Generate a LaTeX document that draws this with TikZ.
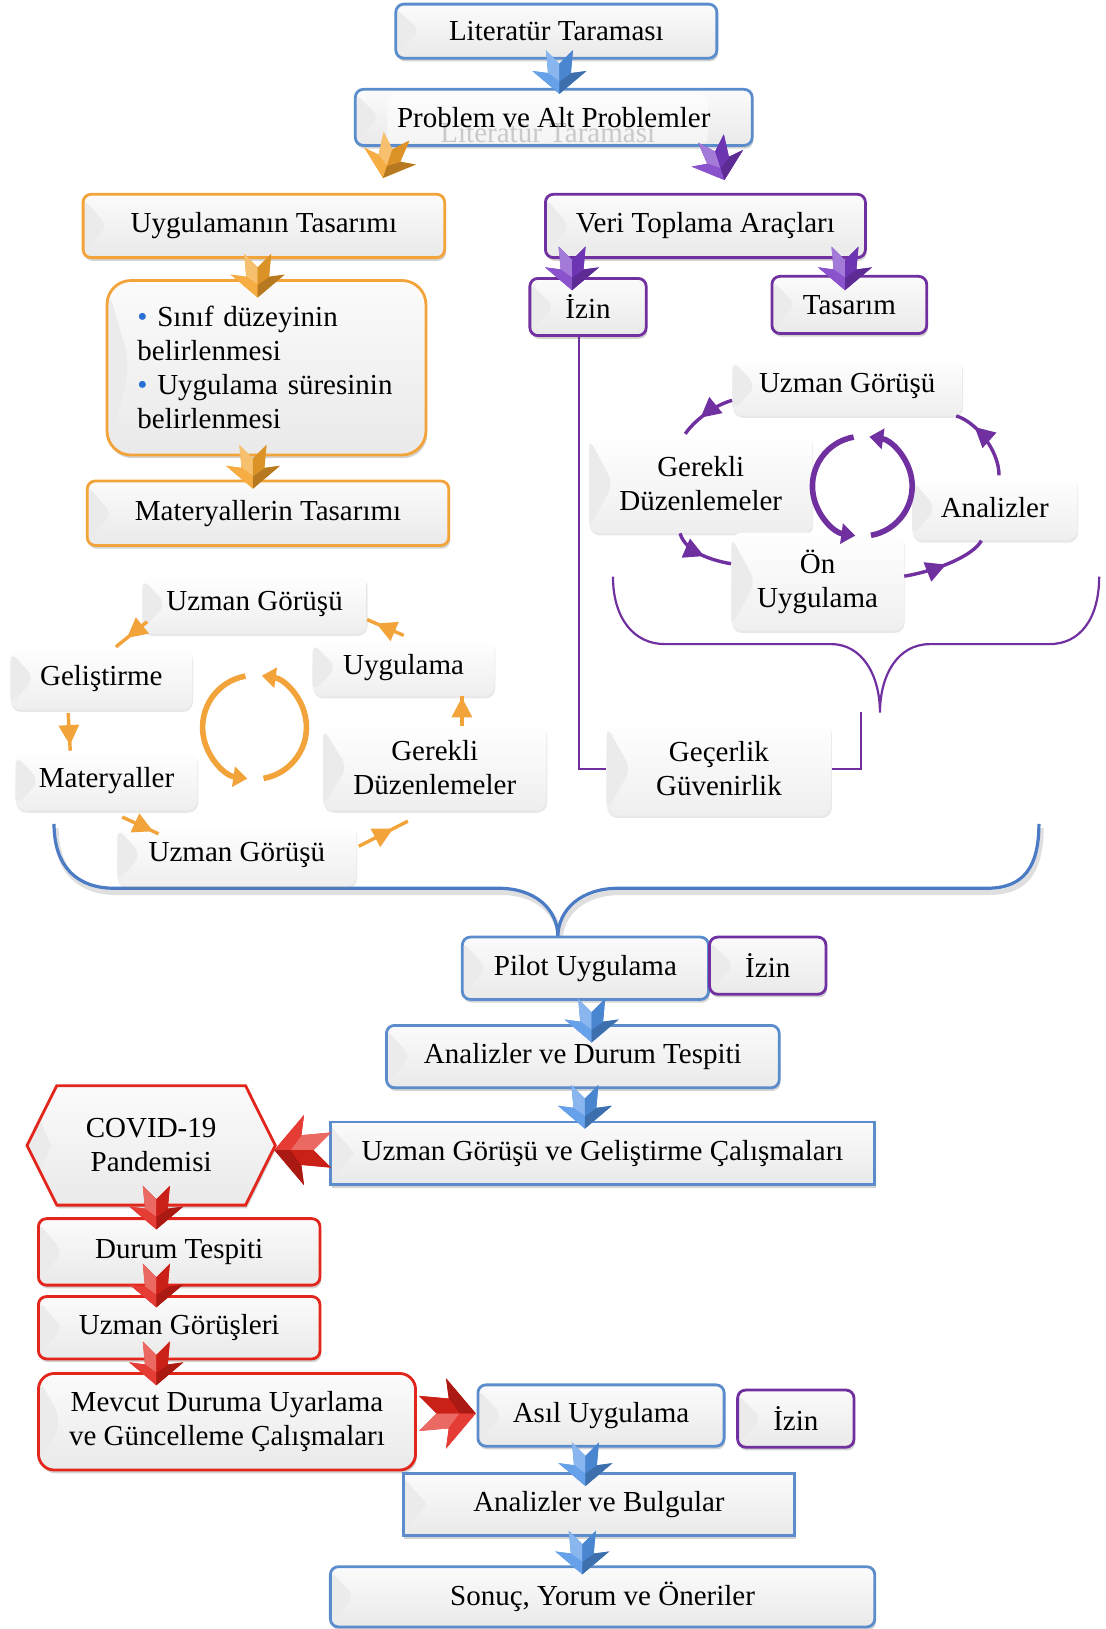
\documentclass[tikz,border=0pt]{standalone}
\usepackage{fontspec}
\setmainfont{Liberation Serif}
\usetikzlibrary{shadows,shapes.symbols,calc,decorations.markings,arrows.meta}

\definecolor{boxblue}{HTML}{5B8CCB}
\definecolor{boxorange}{HTML}{F2A33A}
\definecolor{boxpurple}{HTML}{7030A0}
\definecolor{boxred}{HTML}{E3261C}
\definecolor{dotblue}{HTML}{2A6FD4}
\definecolor{arrblue}{HTML}{5294E6}
\definecolor{arrorange}{HTML}{F3A22A}
\definecolor{arrpurple}{HTML}{7A3BC6}
\definecolor{arrred}{HTML}{E2231A}
\definecolor{braceblue}{HTML}{4A7BC4}

% box given by its corners: name, style, x1, y1, x2, y2, text
\newcommand\flowbox[7]{%
  \node[#2, minimum width={(#5-#3)*0.51923pt}, minimum height={(#6-#4)*0.51923pt}]
    (#1) at ({(#3+#5)/2},{(#4+#6)/2}) {#7};}

\tikzset{
  every node/.style={font=\fontsize{14.5}{17}\selectfont, inner sep=0pt, align=center},
  bevel/.style={path picture={
    \fill[gray!16] ([yshift=-2pt]path picture bounding box.north west)
      -- ([xshift=12pt]path picture bounding box.west)
      -- ([yshift=2pt]path picture bounding box.south west) -- cycle;}},
  ghosted/.style={path picture={
    \fill[gray!16] ([yshift=-2pt]path picture bounding box.north west)
      -- ([xshift=12pt]path picture bounding box.west)
      -- ([yshift=2pt]path picture bounding box.south west) -- cycle;
    \fill[white, opacity=0.5, rounded corners=3pt] ([xshift=16pt,yshift=-2.5pt]path picture bounding box.north west)
      rectangle ([xshift=-22pt,yshift=1pt]path picture bounding box.south east);
    \node[text=gray!42] at ([xshift=-3pt,yshift=-8pt]path picture bounding box.center) {Literatür Taraması};}},
  panel/.style={rounded corners=4pt, top color=gray!3, bottom color=gray!17, bevel,
    drop shadow={shadow xshift=0.6pt, shadow yshift=-1.6pt, opacity=0.35}},
  edged/.style={panel, draw=#1, line width=1.4pt},
  soft/.style={rounded corners=5pt, top color=white, bottom color=gray!13, bevel,
    drop shadow={shadow xshift=0.4pt, shadow yshift=-1.2pt, opacity=0.18}},
  cyc/.style 2 args={draw=#1, line width=1.7pt, postaction={decorate},
    decoration={markings, mark=at position #2 with {\arrow[color=#1]{Triangle[length=10pt,width=10pt]}}}},
  ring/.style={draw=#1, line width=2.8pt, -{Triangle[length=7pt,width=10pt]}},
  % faceted block arrow pointing down, origin at the middle of its top
  pics/starrow/.style={code={
    \fill[#1] (0,42) -- (26,20) -- (11,22) -- (13,0) -- (0,13) -- (-13,0) -- (-11,22) -- (-26,20) -- cycle;
    \fill[#1!68!white] (-13,0) -- (0,13) -- (0,30) -- (-11,22) -- cycle;
    \fill[#1!88!white] (-26,20) -- (-11,22) -- (0,30) -- (0,42) -- cycle;
    \fill[#1!75!black] (26,20) -- (11,22) -- (0,30) -- (0,42) -- cycle;
    \fill[#1!90!black] (13,0) -- (0,13) -- (0,30) -- (11,22) -- cycle;
  }}
}

\begin{document}
\begin{tikzpicture}[x=0.51923pt, y=-0.51923pt]
\useasboundingbox (0,0) rectangle (1064,1568);

% large braces
\draw[gray, opacity=0.25, line width=2.6pt] (54,797) .. controls (54,839) and (77,859) .. (112,859) -- (482,859)
  .. controls (517,859) and (539,879) .. (539,906) .. controls (539,879) and (562,859) .. (597,859)
  -- (952,859) .. controls (987,859) and (1002,839) .. (1002,797);
\draw[braceblue, line width=1.6pt] (52,793) .. controls (52,835) and (75,855) .. (110,855) -- (480,855)
  .. controls (515,855) and (537,875) .. (537,902) .. controls (537,875) and (560,855) .. (595,855)
  -- (950,855) .. controls (985,855) and (1000,835) .. (1000,793);
\draw[boxpurple, line width=1.1pt] (590,555) .. controls (590,595) and (610,620) .. (640,620) -- (800,620)
  .. controls (830,620) and (847,650) .. (847,686) .. controls (847,650) and (864,620) .. (895,620)
  -- (1010,620) .. controls (1040,620) and (1058,595) .. (1058,555);

% top chain
\flowbox{lit}{edged=boxblue}{381}{4}{690}{56}{Literatür Taraması}
\flowbox{prob}{edged=boxblue, ghosted}{342}{86}{724}{140}{Problem ve Alt Problemler}

% design branch
\flowbox{ut}{edged=boxorange}{80}{187}{428}{248}{Uygulamanın Tasarımı}
\flowbox{sel}{edged=boxorange, rounded corners=12pt, align=left, text width=129pt}{103}{270}{410}{438}%
  {{\color{dotblue}•} Sınıf düzeyinin\\belirlenmesi\\{\color{dotblue}•} Uygulama süresinin\\belirlenmesi}
\flowbox{mt}{edged=boxorange}{84}{463}{432}{525}{Materyallerin Tasarımı}

% data collection branch
\flowbox{vt}{edged=boxpurple}{525}{187}{833}{248}{Veri Toplama Araçları}
\flowbox{izina}{edged=boxpurple}{510}{268}{622}{323}{İzin}
\flowbox{tas}{edged=boxpurple}{743}{266}{892}{321}{Tasarım}

% tool development cycle
\flowbox{ugr}{soft}{705}{343}{926}{400}{Uzman Görüşü}
\flowbox{gdr}{soft}{567}{418}{782}{513}{Gerekli\\Düzenlemeler}
\flowbox{anr}{soft}{878}{458}{1037}{520}{Analizler}
\flowbox{onr}{soft}{704}{513}{870}{607}{Ön\\Uygulama}
\flowbox{gg}{soft}{584}{695}{800}{785}{Geçerlik\\Güvenirlik}

% material development cycle
\flowbox{ugl}{soft}{137}{553}{353}{610}{Uzman Görüşü}
\flowbox{gel}{soft}{10}{623}{185}{683}{Geliştirme}
\flowbox{uyg}{soft}{301}{615}{476}{670}{Uygulama}
\flowbox{mat}{soft}{15}{723}{190}{780}{Materyaller}
\flowbox{gdl}{soft}{311}{697}{526}{780}{Gerekli\\Düzenlemeler}
\flowbox{ugb}{soft}{113}{793}{343}{853}{Uzman Görüşü}

% pilot and main study
\flowbox{pilot}{edged=boxblue}{445}{902}{682}{962}{Pilot Uygulama}
\flowbox{izinb}{edged=boxpurple}{683}{902}{795}{957}{İzin}
\flowbox{ads}{edged=boxblue}{372}{987}{750}{1047}{Analizler ve Durum Tespiti}
\flowbox{ugc}{edged=boxblue, sharp corners}{318}{1080}{842}{1140}{Uzman Görüşü ve Geliştirme Çalışmaları}
\flowbox{covid}{edged=boxred, sharp corners, shape=signal, signal to=west and east, signal pointer angle=127}{26}{1045}{265}{1160}{COVID-19\\Pandemisi}
\flowbox{dt}{edged=boxred}{37}{1173}{308}{1237}{Durum Tespiti}
\flowbox{ugs}{edged=boxred}{37}{1248}{308}{1308}{Uzman Görüşleri}
\flowbox{mev}{edged=boxred, rounded corners=8pt}{37}{1322}{400}{1415}{Mevcut Duruma Uyarlama\\ve Güncelleme Çalışmaları}
\flowbox{asil}{edged=boxblue}{460}{1333}{697}{1392}{Asıl Uygulama}
\flowbox{izinc}{edged=boxpurple}{710}{1338}{822}{1393}{İzin}
\flowbox{anb}{edged=boxblue, sharp corners}{388}{1418}{765}{1478}{Analizler ve Bulgular}
\flowbox{son}{edged=boxblue}{318}{1508}{842}{1566}{Sonuç, Yorum ve Öneriler}

% permission line to validity box
\coordinate (vtop) at (829,685);
\draw[boxpurple, line width=1.1pt] ($(izina.south)+(-9,0)$) |- (gg.west);
\draw[boxpurple, line width=1.1pt] (gg.east) -| (vtop);

% central rings
\coordinate (pc) at (830,468);
\draw[ring=boxpurple] ($(pc)+(-100:48)$) arc[start angle=-100, end angle=-262, radius=48];
\draw[ring=boxpurple] ($(pc)+(80:48)$) arc[start angle=80, end angle=-82, radius=48];
\coordinate (oc) at (245,700);
\draw[ring=boxorange] ($(oc)+(-100:50)$) arc[start angle=-100, end angle=-262, radius=50];
\draw[ring=boxorange] ($(oc)+(80:50)$) arc[start angle=80, end angle=-82, radius=50];

% tool cycle links
\coordinate (r1a) at ([shift={(0,-15)}]ugr.south west);
\coordinate (r1b) at ([shift={(93,0)}]gdr.north west);
\coordinate (r2a) at ([shift={(88,0)}]gdr.south west);
\coordinate (r2b) at ([shift={(0,30)}]onr.north west);
\coordinate (r3a) at ([shift={(0,42)}]onr.north east);
\coordinate (r3b) at ([shift={(67,0)}]anr.south west);
\coordinate (r4a) at ([shift={(84,0)}]anr.north west);
\coordinate (r4b) at ([shift={(-6,0)}]ugr.south east);
\draw[cyc={boxpurple}{0.62}] (r1a) .. controls ($(r1a)+(-18,5)$) and ($(r1b)+(8,-12)$) .. (r1b);
\draw[cyc={boxpurple}{0.55}] (r2a) .. controls ($(r2a)+(5,18)$) and ($(r2b)+(-18,-3)$) .. (r2b);
\draw[cyc={boxpurple}{0.5}] (r3a) .. controls ($(r3a)+(30,-5)$) and ($(r3b)+(-8,15)$) .. (r3b);
\draw[cyc={boxpurple}{0.72}] (r4a) .. controls ($(r4a)+(0,-25)$) and ($(r4b)+(18,5)$) .. (r4b);

% material cycle links
\draw[cyc={boxorange}{0.65}] ([shift={(5,-12)}]ugl.south west) -- ([shift={(102,0)}]gel.north west);
\draw[cyc={boxorange}{0.85}] ([shift={(56,3)}]gel.south west) -- ([shift={(53,0)}]mat.north west);
\draw[cyc={boxorange}{0.85}] ([shift={(103,6)}]mat.south west) -- ([shift={(40,10)}]ugb.north west);
\draw[cyc={boxorange}{0.7}] ([shift={(2,22)}]ugb.north east) -- ([shift={(82,10)}]gdl.south west);
\draw[cyc={boxorange}{0.97}] ([shift={(134,2)}]gdl.north west) -- ([shift={(144,0)}]uyg.south west);
\draw[cyc={boxorange}{0.75}] ([shift={(88,-3)}]uyg.north west) -- ([shift={(0,-14)}]ugl.south east);

% block arrows between stages
\pic at ($(lit.south)+(3,-9)$) {starrow=arrblue};
\pic[rotate=-18] at ($(prob.south west)+(41,-10)$) {starrow=arrorange};
\pic[rotate=18] at ($(prob.south east)+(-41,-8)$) {starrow=arrpurple};
\pic at ($(ut.south)+(-6,-5)$) {starrow=arrorange};
\pic at ($(sel.south)+(-13,-11)$) {starrow=arrorange};
\pic at ($(vt.south west)+(27,-12)$) {starrow=arrpurple};
\pic at ($(vt.south east)+(-21,-12)$) {starrow=arrpurple};
\pic at ($(pilot.south)+(6,-2)$) {starrow=arrblue};
\pic at ($(ads.south)+(2,-4)$) {starrow=arrblue};
\pic[rotate=-90, scale=1.3] at ($(ugc.west)+(2,-3)$) {starrow=arrred};
\pic at ($(covid.south)+(5,-20)$) {starrow=arrred};
\pic at ($(dt.south)+(-22,-22)$) {starrow=arrred};
\pic at ($(ugs.south)+(-22,-18)$) {starrow=arrred};
\pic[rotate=90, scale=1.3] at ($(mev.east)+(2,-8)$) {starrow=arrred};
\pic at ($(asil.south)+(-15,-5)$) {starrow=arrblue};
\pic at ($(anb.south)+(-16,-6)$) {starrow=arrblue};
\end{tikzpicture}
\end{document}
